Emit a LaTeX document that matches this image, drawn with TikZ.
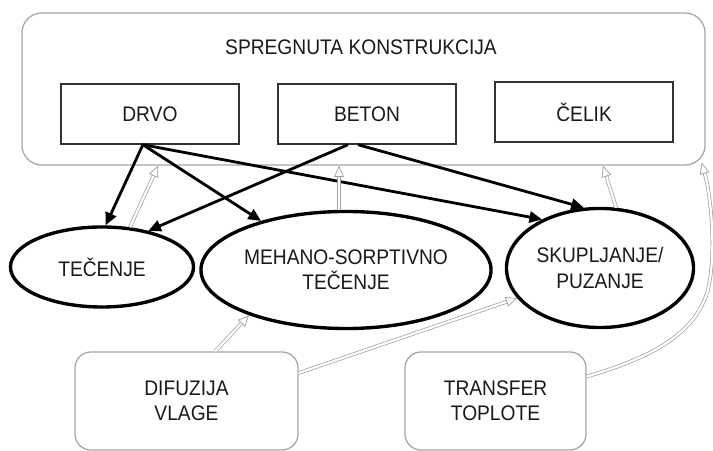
\documentclass[tikz,border=0pt]{standalone}
\usepackage{fontspec}
\setmainfont[FakeStretch=0.91]{Liberation Sans}
\usetikzlibrary{matrix,calc,positioning,shapes.geometric,arrows.meta}

\begin{document}
\begin{tikzpicture}[x=0.025cm, y=-0.025cm,
  every node/.style={font=\fontsize{15}{18}\selectfont, text=black!90},
  part/.style={draw=black!80, line width=1.1pt, minimum width=4.45cm, minimum height=1.5cm},
  effect/.style={ellipse, draw=black, line width=2.4pt, inner sep=0pt, align=center},
  source/.style={draw=gray!70, line width=0.9pt, rounded corners=0.4cm, align=center},
  load/.style={-{Triangle[length=9pt,width=8pt]}, line width=2pt, black},
  hollow/.style={draw=gray!75, line width=0.5pt, double=white, double distance=1.6pt,
                 -{Triangle[open,length=8pt,width=7pt]}}]

\useasboundingbox (0,0) rectangle (713,451);

% Outer box
\node[draw=gray!70, line width=0.9pt, rounded corners=0.5cm,
      minimum width=17.075cm, minimum height=3.8cm] (outer) at (363.5,89) {};
\node (title) at (361,47) {SPREGNUTA KONSTRUKCIJA};

% Materials in one row
\matrix (mat) [matrix of nodes, nodes={part}, column sep=0.9375cm] at (367,113) {
DRVO & BETON & ČELIK \\
};

% Effects
\node[effect, minimum width=4.575cm, minimum height=2cm] (tec) at (102,267) {TEČENJE};
\node[effect, minimum width=7.25cm, minimum height=2.925cm] (mech) at (346,270) {MEHANO-SORPTIVNO\\TEČENJE};
\node[effect, minimum width=4.675cm, minimum height=2.975cm] (skup) at (600,268) {SKUPLJANJE/\\PUZANJE};

% Sources
\node[source, minimum width=5.575cm, minimum height=2.45cm] (dif) at (186.5,401) {DIFUZIJA\\VLAGE};
\node[source, minimum width=4.525cm, minimum height=2.45cm] (tr) at (495.5,401) {TRANSFER\\TOPLOTE};

% Black arrows from materials
\draw[load] ($(mat-1-1.south)+(-7,0)$) -- (tec.85);
\draw[load] ($(mat-1-1.south)+(-7,0)$) -- (mech.150);
\draw[load] ($(mat-1-1.south)+(-7,0)$) -- (skup.140);
\draw[load] ($(mat-1-2.south)+(-19,0)$) -- (tec.38);
\draw[load] ($(mat-1-2.south)+(-9,0)$) -- (skup.105);

% Gray arrows back up
\coordinate (m) at ($(mech.north)+(-7,0)$);
\draw[hollow] (tec.55) -- ($(outer.south west)!0.2!(outer.south east)$);
\draw[hollow] (m) -- (m |- outer.south);
\draw[hollow] (skup.75) -- ($(outer.south west)!0.85!(outer.south east)$);
\draw[hollow] (tr.15) .. controls (650,358) and (695,335) .. (708,290)
  .. controls (716,255) and (712,200) .. ($(outer.south east)+(-4,-3)$);
\draw[hollow] (dif.60) -- (mech.205);
\draw[hollow] (dif.14) -- (skup.200);

\end{tikzpicture}
\end{document}
